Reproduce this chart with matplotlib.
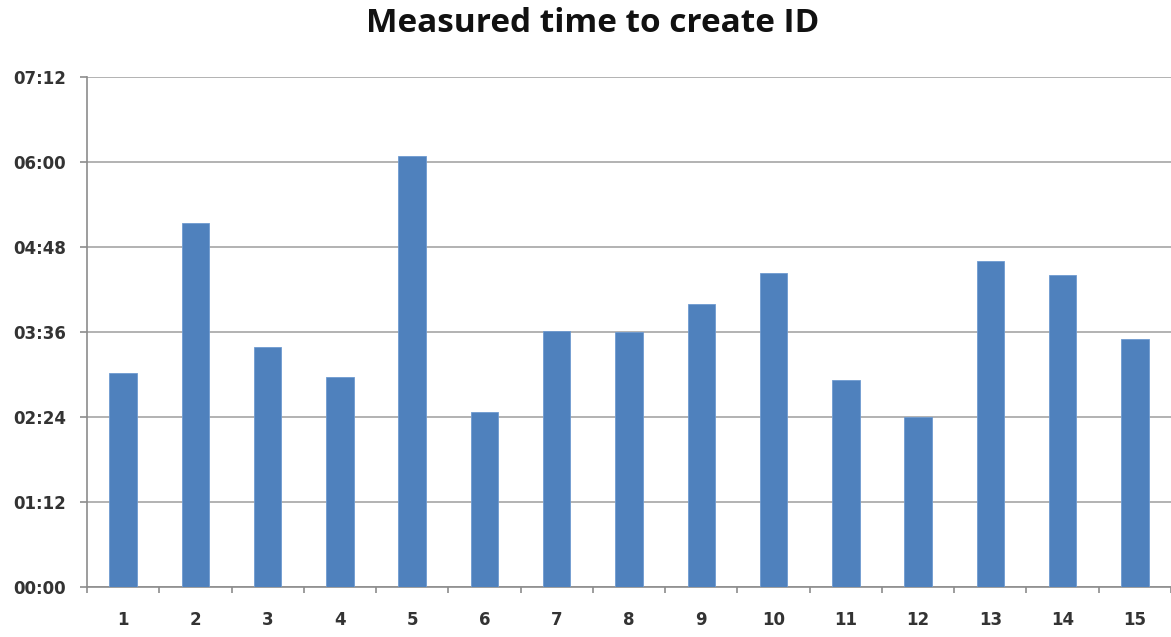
import matplotlib
matplotlib.use("Agg")
import matplotlib.pyplot as plt
from matplotlib.ticker import FuncFormatter, FixedLocator

# measured time per run, in seconds
runs = [str(i) for i in range(1, 16)]
seconds = [181, 308, 203, 178, 365, 148, 217, 216, 240, 266, 175, 144, 276, 264, 210]
y_ticks = [0, 72, 144, 216, 288, 360, 432]


def mmss(v, pos=None):
    v = int(round(v))
    return f"{v // 60:02d}:{v % 60:02d}"


fig = plt.figure(figsize=(11.71, 6.37), dpi=100)
W, H = 1171, 637
ax = fig.add_axes([87 / W, 1 - 587.3 / H, (W - 87) / W, (587.3 - 76.7) / H])

x = list(range(len(runs)))
ax.bar(x, seconds, width=0.38, color="#4f81bd", edgecolor="#6f9bd0",
       linewidth=0.6, zorder=3)

ax.set_xlim(-0.5, len(runs) - 0.5)
ax.set_ylim(0, 432)
ax.set_yticks(y_ticks)
ax.yaxis.set_major_formatter(FuncFormatter(mmss))
ax.set_xticks(x)
ax.set_xticklabels(runs)
ax.xaxis.set_minor_locator(FixedLocator([i - 0.5 for i in range(len(runs) + 1)]))

ax.grid(axis="y", color="#a6a6a6", linewidth=1.2, zorder=0)
for s in ["top", "right"]:
    ax.spines[s].set_visible(False)
for s in ["left", "bottom"]:
    ax.spines[s].set_color("#8c8c8c")
    ax.spines[s].set_linewidth(1.2)

ax.tick_params(axis="y", length=5, width=1.2, color="#8c8c8c", pad=10,
               labelsize=12, labelcolor="#333333")
ax.tick_params(axis="x", which="major", length=0, pad=17,
               labelsize=12, labelcolor="#333333")
ax.tick_params(axis="x", which="minor", length=4.5, width=1.2, color="#8c8c8c")
for lbl in ax.get_xticklabels() + ax.get_yticklabels():
    lbl.set_fontweight("bold")

fig.text(593 / W, 1 - 23 / H, "Measured time to create ID", ha="center",
         va="center", fontsize=24, fontweight="bold", family="Open Sans",
         color="#111111")

fig.savefig("out.png", dpi=100)
